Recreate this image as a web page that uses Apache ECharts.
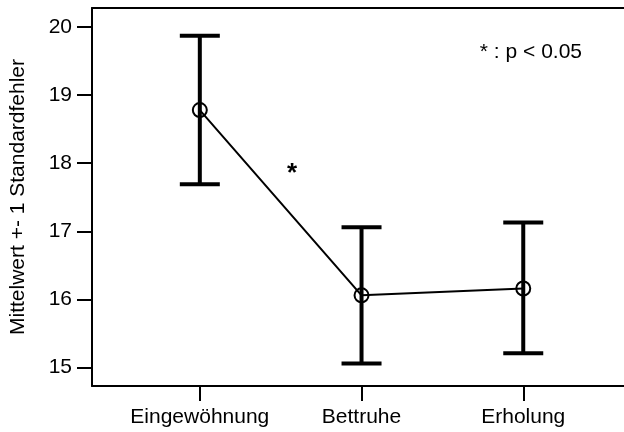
<!DOCTYPE html>
<html>
<head>
<meta charset="utf-8">
<script src="https://cdn.jsdelivr.net/npm/echarts@6/dist/echarts.min.js"></script>
<style>html,body{margin:0;padding:0;background:#fff}#c{width:624px;height:432px}</style>
</head>
<body>
<div id="c"></div>
<script>
const categories = ['Eingewöhnung', 'Bettruhe', 'Erholung'];
const means = [18.78, 16.06, 16.16];
const lower = [17.69, 15.06, 15.21];
const upper = [19.87, 17.06, 17.13];
const yTicks = [15, 16, 17, 18, 19, 20];
const yTitle = 'Mittelwert +- 1 Standardfehler';
const sigNote = '* : p < 0.05';
const sigMark = [0.57, 17.9];

const FONT = '"Liberation Sans", Arial, sans-serif';
const xIdx = categories.map((_, i) => i);

const chart = echarts.init(document.getElementById('c'), null, {renderer: 'canvas'});
chart.setOption({
  animation: false,
  backgroundColor: '#fff',
  grid: {left: 91, right: 0, top: 8, bottom: 46, containLabel: false},
  xAxis: [{
    type: 'value', min: -0.6667, max: 2.623,
    axisLine: {show: true, onZero: false, lineStyle: {color: '#000', width: 2}},
    axisTick: {show: true, customValues: xIdx, length: 15, lineStyle: {color: '#000', width: 2}},
    axisLabel: {customValues: xIdx, formatter: v => categories[Math.round(v)], color: '#000', fontSize: 21, fontFamily: FONT, margin: 21},
    splitLine: {show: false}
  }, {
    type: 'value', position: 'top', min: -0.6667, max: 2.623,
    axisLine: {show: true, onZero: false, lineStyle: {color: '#000', width: 2}},
    axisTick: {show: false}, axisLabel: {show: false}, splitLine: {show: false}
  }],
  yAxis: {
    type: 'value', min: 14.728, max: 20.279,
    name: yTitle, nameLocation: 'middle', nameGap: 63,
    nameTextStyle: {color: '#000', fontSize: 21, fontFamily: FONT},
    axisLine: {show: true, onZero: false, lineStyle: {color: '#000', width: 2}},
    axisTick: {show: true, customValues: yTicks, length: 15, lineStyle: {color: '#000', width: 2}},
    axisLabel: {customValues: yTicks, color: '#000', fontSize: 21, fontFamily: FONT, margin: 20},
    splitLine: {show: false}
  },
  series: [{
    type: 'custom',
    z: 2,
    data: xIdx.map(i => [i, lower[i], upper[i]]),
    renderItem: function (params, api) {
      const lo = api.coord([api.value(0), api.value(1)]);
      const hi = api.coord([api.value(0), api.value(2)]);
      const hw = 20;
      const st = {stroke: '#000', lineWidth: 4};
      return {type: 'group', children: [
        {type: 'line', shape: {x1: lo[0], y1: lo[1], x2: hi[0], y2: hi[1]}, style: st},
        {type: 'line', shape: {x1: lo[0] - hw, y1: lo[1], x2: lo[0] + hw, y2: lo[1]}, style: st},
        {type: 'line', shape: {x1: hi[0] - hw, y1: hi[1], x2: hi[0] + hw, y2: hi[1]}, style: st}
      ]};
    }
  }, {
    type: 'line',
    z: 3,
    data: xIdx.map(i => [i, means[i]]),
    symbol: 'circle', symbolSize: 14,
    itemStyle: {color: 'rgba(0,0,0,0)', borderColor: '#000', borderWidth: 2},
    lineStyle: {color: '#000', width: 2},
    markPoint: {
      symbol: 'circle', symbolSize: 1, itemStyle: {color: 'rgba(0,0,0,0)'},
      label: {show: true, formatter: '*', color: '#000', fontSize: 26, fontWeight: 'bold', fontFamily: FONT, position: 'inside', offset: [0, 4]},
      data: [{coord: sigMark}]
    }
  }],
  graphic: [{
    type: 'text', right: 42, top: 42,
    style: {text: sigNote, fill: '#000', fontSize: 21, fontFamily: FONT}
  }]
});
</script>
</body>
</html>
